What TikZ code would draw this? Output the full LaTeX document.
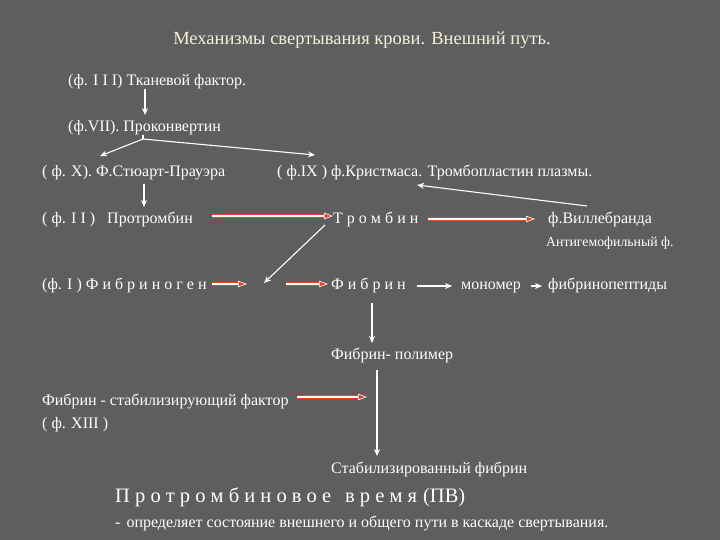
\documentclass[tikz,border=0pt]{standalone}
\usepackage{fontspec}
\setmainfont{Liberation Serif}
\usetikzlibrary{arrows.meta}
\definecolor{bg}{HTML}{5E5E5E}
\definecolor{titlecol}{HTML}{F4F0DC}
\definecolor{blkred}{HTML}{E4452A}
\begin{document}
\begin{tikzpicture}[x=1pt,y=-1pt,
  txt/.style={anchor=base west,inner sep=0pt,text=white,font=\fontsize{16}{18}\selectfont},
  small/.style={txt,font=\fontsize{13.8}{16}\selectfont},
  wire/.style={draw=white,line width=1.1pt,-{Stealth[length=7pt,width=6pt]}},
  blockarrow/.style={draw=white,line width=1.3pt,
     -{Triangle[length=9pt,width=6.5pt,fill=blkred,line width=0.6pt]},
     preaction={draw=blkred,line width=3.6pt,-{},shorten >=7pt}}]
\useasboundingbox (0,0) rectangle (720,540);
\fill[bg] (0,0) rectangle (720,540);

\node[anchor=base,inner sep=0pt,text=titlecol,font=\fontsize{18.5}{21}\selectfont] (title) at (362,45) {Механизмы свертывания крови. Внешний путь.};

\node[txt] (tkan) at (68,85.5) {(ф. I I I) Тканевой фактор.};
\node[txt] (prok) at (68,131.5) {(ф.VII). Проконвертин};
\node[txt] (fx) at (42,177) {( ф. X). Ф.Стюарт-Прауэра};
\node[txt] (fix) at (277,177) {( ф.IX ) ф.Кристмаса. Тромбопластин плазмы.};
\node[txt] (protr) at (42,223) {( ф. I I )\hspace{12pt}Протромбин};
\node[txt] (tromb) at (333,223) {Т р о м б и н};
\node[txt] (vill) at (548,223) {ф.Виллебранда};
\node[small] (antig) at (546,246) {Антигемофильный ф.};
\node[txt] (fibrg) at (42,289) {(ф. I ) Ф и б р и н о г е н};
\node[txt] (fibr) at (331,289) {Ф и б р и н};
\node[txt] (mono) at (461,289) {мономер};
\node[txt] (pept) at (548,289) {фибринопептиды};
\node[txt] (polym) at (331,359) {Фибрин- полимер};
\node[txt] (stabf) at (42,405) {Фибрин - стабилизирующий фактор};
\node[txt] (fxiii) at (42,428) {( ф. XIII )};
\node[txt] (stab) at (331,473) {Стабилизированный фибрин};
\node[txt,font=\fontsize{20.5}{24}\selectfont] (pv) at (115,502) {П р о т р о м б и н о в о е\hspace{14pt}в р е м я\hspace{6pt}(ПВ)};
\node[txt] (desc) at (115,527) {-\hspace{6pt}определяет состояние внешнего и общего пути в каскаде свертывания.};

\coordinate (split) at (143,139);
\coordinate (junc) at (264,283);

\draw[wire] (145,89) -- (145,115);
\draw[white,line width=1.1pt] (143,135) -- (split);
\draw[wire] (split) -- (100,156);
\draw[wire] (split) -- (315,155);
\draw[wire] (144,184) -- (144,207);
\draw[blockarrow] (212,216) -- (tromb.west |- 0,216);
\draw[blockarrow] (428,219) -- (535,219);
\draw[wire] (587,206) -- (417,185);
\draw[wire] (325,225) -- (junc);
\draw[blockarrow] (212,284) -- (247,284);
\draw[blockarrow] (286,284) -- (328,284);
\draw[wire] (417,286) -- (452,286);
\draw[wire] (531,286) -- (542,286);
\draw[wire] (372,303) -- (372,343);
\draw[blockarrow] (297,397) -- (367,397);
\draw[wire] (377,370) -- (377,456);
\end{tikzpicture}
\end{document}
